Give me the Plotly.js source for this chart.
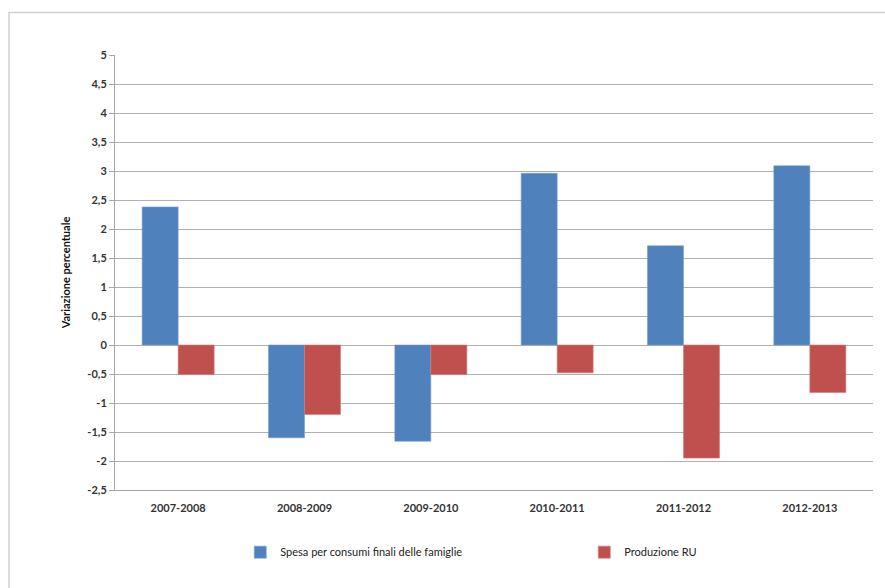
<!DOCTYPE html>
<html>
<head>
<meta charset="utf-8">
<script src="https://cdn.plot.ly/plotly-3.0.1.min.js"></script>
<style>
html,body{margin:0;padding:0;background:#fff;}
#chart{width:885px;height:588px;}
</style>
</head>
<body>
<div id="chart"></div>
<script>
const categories = ['2007-2008','2008-2009','2009-2010','2010-2011','2011-2012','2012-2013'];
const spesaValues = [2.38, -1.60, -1.66, 2.96, 1.71, 3.09];
const produzioneValues = [-0.51, -1.20, -0.51, -0.48, -1.95, -0.82];
const seriesNames = ['Spesa per consumi finali delle famiglie', 'Produzione RU'];
const yTickVals = [-2.5,-2,-1.5,-1,-0.5,0,0.5,1,1.5,2,2.5,3,3.5,4,4.5,5];
const yTickText = ['-2,5','-2','-1,5','-1','-0,5','0','0,5','1','1,5','2','2,5','3','3,5','4','4,5','5'];
const yTitle = 'Variazione percentuale';

const FONT = 'Lato, "Open Sans", sans-serif';

const traces = [
  {
    type: 'bar',
    name: seriesNames[0],
    x: categories,
    y: spesaValues,
    legendwidth: 299,
    marker: {color: '#4F81BD', line: {color: '#7A9CCB', width: 0.6}},
    hoverinfo: 'x+y'
  },
  {
    type: 'bar',
    name: seriesNames[1],
    x: categories,
    y: produzioneValues,
    legendwidth: 110,
    marker: {color: '#C0504D', line: {color: '#D27A78', width: 0.6}},
    hoverinfo: 'x+y'
  }
];

const layout = {
  width: 885,
  height: 588,
  margin: {l: 115, r: 12, t: 55, b: 98},
  paper_bgcolor: '#ffffff',
  plot_bgcolor: '#ffffff',
  font: {family: FONT, size: 11, color: '#333333'},
  barmode: 'group',
  bargap: 0.43,
  bargroupgap: 0,
  showlegend: true,
  legend: {
    orientation: 'h',
    xref: 'container', yref: 'container',
    x: 0.2715, y: 0.061,
    xanchor: 'left', yanchor: 'middle',
    itemwidth: 30,
    font: {family: FONT, size: 11, color: '#222222'},
    bgcolor: 'rgba(0,0,0,0)'
  },
  xaxis: {
    type: 'category',
    showgrid: false,
    showline: true,
    linecolor: '#a6a6a6',
    linewidth: 1,
    ticks: '',
    ticklabelstandoff: 8,
    tickfont: {family: FONT, size: 11, color: '#333333', weight: 'bold'},
    fixedrange: true
  },
  yaxis: {
    range: [-2.5, 5],
    tickvals: yTickVals,
    ticktext: yTickText,
    showgrid: true,
    gridcolor: '#b0b0b0',
    gridwidth: 1,
    zeroline: false,
    showline: true,
    linecolor: '#a6a6a6',
    linewidth: 1,
    ticks: 'outside',
    ticklen: 5,
    tickcolor: '#a6a6a6',
    tickfont: {family: FONT, size: 11, color: '#333333', weight: 'bold'},
    title: {text: yTitle, font: {family: FONT, size: 11, color: '#111111', weight: 'bold'}, standoff: 14},
    fixedrange: true
  },
  shapes: [
    {
      type: 'rect', xref: 'paper', yref: 'paper',
      x0: -0.1398, x1: 1.05, y0: -0.3, y1: 1.0977,
      line: {color: '#d0d0d0', width: 1.5},
      fillcolor: 'rgba(0,0,0,0)',
      layer: 'below'
    }
  ]
};

Plotly.newPlot('chart', traces, layout, {displayModeBar: false, staticPlot: true});
</script>
</body>
</html>
